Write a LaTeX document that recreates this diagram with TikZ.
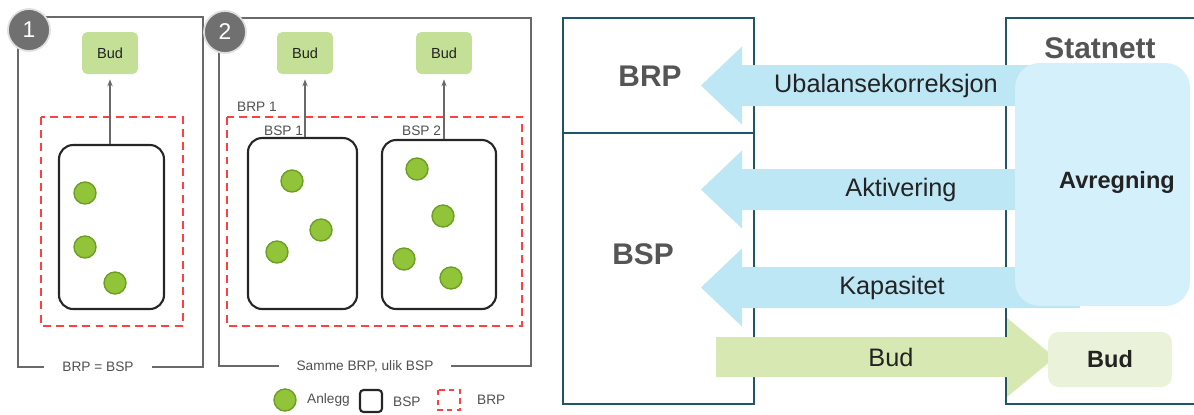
\documentclass[tikz,border=0pt]{standalone}
\usepackage{fontspec}
\setmainfont{Liberation Sans}
\usetikzlibrary{arrows.meta}

\definecolor{framegrey}{RGB}{105,105,105}
\definecolor{badgegrey}{RGB}{112,112,112}
\definecolor{textgrey}{RGB}{80,80,80}
\definecolor{budgreen}{RGB}{196,224,150}
\definecolor{anleggfill}{RGB}{146,196,58}
\definecolor{anleggline}{RGB}{108,158,36}
\definecolor{brpred}{RGB}{255,64,64}
\definecolor{tealline}{RGB}{30,85,105}
\definecolor{flowblue}{RGB}{190,231,245}
\definecolor{avrblue}{RGB}{212,240,250}
\definecolor{flowgreen}{RGB}{215,232,178}
\definecolor{bidgreen}{RGB}{234,243,218}
\definecolor{bigtext}{RGB}{85,85,85}
\definecolor{flowtext}{RGB}{35,35,35}

\begin{document}
\begin{tikzpicture}[x=0.02cm,y=-0.02cm,
    frame/.style={draw=framegrey,line width=0.6pt},
    badge/.style={circle,fill=badgegrey,draw=white!75!gray,line width=1pt,minimum size=0.84cm,inner sep=0pt,text=white,font=\fontsize{13}{15}\selectfont},
    budbox/.style={rectangle,rounded corners=3pt,fill=budgreen,minimum width=1.12cm,minimum height=0.84cm,font=\fontsize{8.3}{10}\selectfont,text=flowtext},
    bspbox/.style={rectangle,rounded corners=8pt,draw=black!85,line width=1.2pt,inner sep=0pt},
    unit/.style={circle,fill=anleggfill,draw=anleggline,line width=0.8pt,minimum size=0.44cm,inner sep=0pt},
    brpbox/.style={draw=brpred,dash pattern=on 4.5pt off 3pt,line width=1.2pt},
    small/.style={font=\fontsize{7.8}{9}\selectfont,text=textgrey,inner sep=1pt},
    caption/.style={small,fill=white,inner xsep=0.36cm},
    bid/.style={-{Stealth[length=4pt,width=3pt]},draw=framegrey,line width=0.7pt,shorten >=0.1cm},
    party/.style={font=\bfseries\fontsize{17}{20}\selectfont,text=bigtext},
    flowlabel/.style={font=\fontsize{14.4}{17}\selectfont,text=flowtext},
    boldlabel/.style={font=\bfseries\fontsize{13.4}{16}\selectfont,text=flowtext}]
    \useasboundingbox (0,0) rectangle (1194,414);

    % panel 1: BRP = BSP
    \draw[frame] (18,17) rectangle (203,367);
    \node[caption] (cap1) at (98,367) {BRP = BSP};
    \node[badge] (badge1) at (29,30) {1};
    \draw[brpbox] (41,117) rectangle (183,326);
    \node[bspbox,minimum width=2.1cm,minimum height=3.28cm] (bsp0) at (111.5,227) {};
    \node[budbox] (bud0) at (110,53) {Bud};
    \node[unit] (u01) at (85,193) {};
    \node[unit] (u02) at (85,247) {};
    \node[unit] (u03) at (115,283) {};
    \draw[bid] (bsp0.north -| bud0) -- (bud0);

    % panel 2: samme BRP, ulik BSP
    \draw[frame] (219,18) rectangle (531,366);
    \node[caption] (cap2) at (365,366) {Samme BRP, ulik BSP};
    \node[badge] (badge2) at (225,32) {2};
    \draw[brpbox] (227,117) rectangle (522,326);
    \node[small,anchor=west] (brp1) at (235,107) {BRP 1};
    \node[bspbox,minimum width=2.18cm,minimum height=3.42cm] (bsp1) at (302.5,223.5) {};
    \node[bspbox,minimum width=2.28cm,minimum height=3.38cm] (bsp2) at (439,224.5) {};
    \node[small,anchor=west] (bsp1lbl) at (262,131) {BSP 1};
    \node[small,anchor=west] (bsp2lbl) at (400,131) {BSP 2};
    \node[budbox] (bud1) at (305,53) {Bud};
    \node[budbox] (bud2) at (444,53) {Bud};
    \node[unit] (u11) at (292,181) {};
    \node[unit] (u12) at (321,230) {};
    \node[unit] (u13) at (277,252) {};
    \node[unit] (u21) at (417,169) {};
    \node[unit] (u22) at (443,216) {};
    \node[unit] (u23) at (404,259) {};
    \node[unit] (u24) at (451,278) {};
    \draw[bid] (bsp1.north -| bud1) -- (bud1);
    \draw[bid] (bsp2.north -| bud2) -- (bud2);

    % legend
    \node[unit] (keyunit) at (285,400) {};
    \node[small,anchor=west] (keyunitlbl) at (305,400) {Anlegg};
    \node[draw=black!85,rounded corners=2pt,line width=1.2pt,minimum size=0.44cm,inner sep=0pt] (keybsp) at (371,401) {};
    \node[small,anchor=west] (keybsplbl) at (391,402) {BSP};
    \draw[brpbox,dash pattern=on 3pt off 2.5pt] (438,390) rectangle (460,410);
    \node[small,anchor=west] (keybrplbl) at (475,400) {BRP};

    % right: roles and flows
    \draw[tealline,line width=1.3pt] (563,18) rectangle (754,404);
    \draw[tealline,line width=1.3pt] (563,133) -- (754,133);
    \draw[tealline,line width=1.3pt] (1200,18) -- (1006,18) -- (1006,404) -- (1200,404);
    \node[party] (brp) at (650,76) {BRP};
    \node[party] (bsp) at (643,254) {BSP};
    \node[party] (statnett) at (1100,48) {Statnett};

    \foreach \y/\lx/\txt in {85.5/886/Ubalansekorreksjon,189.5/901/Aktivering,287.5/892/Kapasitet}{
        \fill[flowblue] (1080,\y-20.5) -- (742,\y-20.5) -- (742,\y-39) -- (701,\y)
            -- (742,\y+39) -- (742,\y+20.5) -- (1080,\y+20.5) -- cycle;
        \node[flowlabel] (flow\txt) at (\lx,\y) {\txt};
    }
    \fill[flowgreen] (716,337) -- (1007,337) -- (1007,318) -- (1055,357.5)
        -- (1007,397) -- (1007,377) -- (716,377) -- cycle;
    \node[flowlabel] (flowbud) at (891,357) {Bud};

    \node[rectangle,rounded corners=14pt,fill=avrblue,minimum width=3.5cm,minimum height=4.86cm] (avregning) at (1102.5,184.5) {};
    \node[boldlabel] (avrlbl) at (1117,182) {Avregning};
    \node[rectangle,rounded corners=6pt,fill=bidgreen,minimum width=2.48cm,minimum height=1.1cm,boldlabel] (budstatnett) at (1110,359.5) {Bud};
\end{tikzpicture}
\end{document}
